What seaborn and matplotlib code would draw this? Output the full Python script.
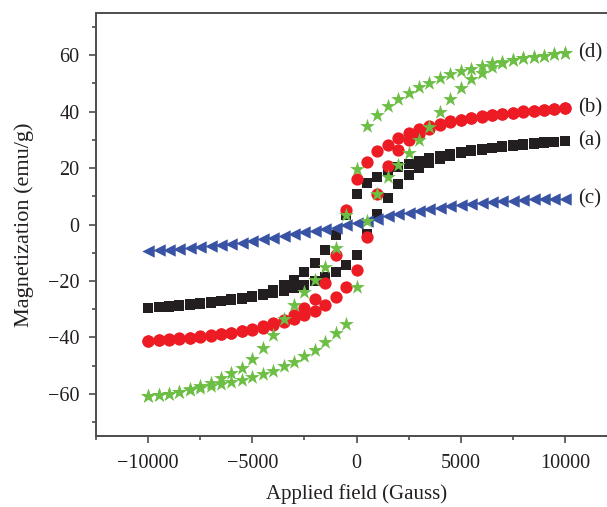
import numpy as np
import pandas as pd
import matplotlib
matplotlib.use("Agg")
import matplotlib.pyplot as plt
import seaborn as sns
from matplotlib.ticker import MultipleLocator

sns.set_style("ticks")
plt.rcParams['font.family'] = ['Liberation Serif', 'DejaVu Serif']

# ------------------------------------------------------------------------
# Data (field in Gauss, M in emu/g)
# ------------------------------------------------------------------------
field = list(range(-10000, 10001, 500))

# (a) black squares
a_upper = [-29.5, -29.2, -28.9, -28.6, -28.2, -27.9, -27.5, -27.0, -26.5, -26.0,
           -25.3, -24.5, -23.4, -21.6, -19.7, -16.7, -13.5, -9.1, -3.6, 3.5,
           10.9, 14.7, 17.0, 19.0, 20.3, 21.5, 22.6, 23.6, 24.4, 25.1,
           25.8, 26.3, 26.8, 27.3, 27.7, 28.1, 28.5, 28.8, 29.1, 29.4, 29.7]
a_lower = [-29.7, -29.4, -29.1, -28.8, -28.5, -28.1, -27.7, -27.3, -26.8, -26.3,
           -25.8, -25.1, -24.4, -23.6, -22.6, -21.4, -20.2, -18.5, -16.7, -14.4,
           -10.8, -3.4, 3.9, 9.5, 14.2, 17.6, 20.0, 21.8, 23.3, 24.4,
           25.3, 26.0, 26.5, 27.0, 27.5, 27.9, 28.2, 28.6, 28.9, 29.2, 29.5]

# (b) red circles
b_upper = [-41.2, -41.0, -40.7, -40.4, -40.1, -39.7, -39.3, -38.8, -38.3, -37.7,
           -37.0, -36.1, -35.0, -33.8, -32.0, -29.7, -26.3, -20.7, -10.8, 5.0,
           16.0, 22.0, 25.9, 28.3, 30.6, 32.5, 33.8, 34.9, 35.8, 36.6,
           37.2, 37.8, 38.4, 38.9, 39.3, 39.7, 40.1, 40.4, 40.7, 41.0, 41.2]
b_lower = [-41.4, -41.1, -40.8, -40.5, -40.2, -39.8, -39.4, -39.0, -38.5, -37.9,
           -37.3, -36.6, -35.7, -34.6, -33.4, -32.2, -30.6, -28.5, -25.8, -22.0,
           -16.1, -4.4, 10.9, 20.9, 26.5, 29.8, 32.1, 33.9, 35.2, 36.2,
           37.0, 37.6, 38.2, 38.7, 39.2, 39.6, 40.0, 40.3, 40.6, 40.9, 41.2]

# (c) blue triangles (no visible loop)
c_curve = [-9.3, -9.1, -8.9, -8.6, -8.3, -8.0, -7.7, -7.3, -6.9, -6.5,
           -5.9, -5.3, -4.7, -4.1, -3.5, -2.8, -2.3, -1.7, -1.1, -0.2,
           0.4, 1.2, 2.1, 2.9, 3.6, 4.2, 4.8, 5.4, 5.9, 6.4,
           6.8, 7.3, 7.6, 7.9, 8.2, 8.5, 8.7, 8.9, 9.0, 9.1, 9.2]

# (d) green stars
d_upper = [-60.8, -60.5, -60.0, -59.3, -58.5, -57.4, -56.2, -54.6, -52.8, -50.8,
           -47.8, -43.9, -39.1, -33.6, -28.6, -24.0, -19.7, -15.0, -8.5, 3.2,
           19.8, 35.0, 38.8, 42.1, 44.6, 46.8, 48.7, 50.3, 52.0, 53.2,
           54.3, 55.3, 56.3, 57.1, 57.7, 58.3, 58.9, 59.4, 59.9, 60.4, 60.7]
d_lower = [-60.8, -60.6, -60.1, -59.4, -58.7, -58.0, -57.3, -56.5, -55.9, -55.0,
           -54.2, -53.1, -52.0, -50.3, -48.7, -46.5, -44.4, -41.8, -38.5, -35.2,
           -22.0, 1.2, 10.9, 16.8, 21.2, 25.3, 29.8, 34.5, 40.0, 44.6,
           48.4, 51.5, 53.9, 55.9, 57.4, 58.3, 58.9, 59.4, 59.9, 60.4, 60.7]

series = [
    ("(a)", [a_upper, a_lower], "s", "#231f20", 62),
    ("(b)", [b_upper, b_lower], "o", "#ed1c24", 78),
    ("(c)", [c_curve], "<", "#3953a4", 80),
    ("(d)", [d_upper, d_lower], "*", "#6cbe45", 125),
]

# ------------------------------------------------------------------------
# Figure
# ------------------------------------------------------------------------
fig = plt.figure(figsize=(6.07, 5.07), dpi=100)
ax = fig.add_axes([96 / 607, 71 / 507, 521 / 607, 423 / 507])

for label, branches, marker, color, size in series:
    for branch in branches:
        df = pd.DataFrame({"H": field, "M": branch})
        sns.scatterplot(data=df, x="H", y="M", marker=marker, color=color,
                        s=size, linewidth=0, ax=ax, legend=False, zorder=3)
    ax.text(10650, branches[0][-1], label, fontsize=15, va="center", ha="left",
            color="#231f20")

ax.set_xlim(-12500, 12500)
ax.set_ylim(-75, 75)
ax.xaxis.set_major_locator(MultipleLocator(5000))
ax.xaxis.set_minor_locator(MultipleLocator(2500))
ax.yaxis.set_major_locator(MultipleLocator(20))
ax.yaxis.set_minor_locator(MultipleLocator(10))
ax.tick_params(which="major", direction="out", length=5, width=1.2,
               colors="#4d4d4d", labelcolor="#231f20", labelsize=14.5)
ax.tick_params(axis="x", which="major", pad=8)
ax.tick_params(axis="y", which="major", pad=7)
ax.tick_params(which="minor", direction="out", length=3, width=1.2,
               colors="#4d4d4d")
for sp in ax.spines.values():
    sp.set_color("#4d4d4d")
    sp.set_linewidth(1.4)

ax.set_xlabel("Applied field (Gauss)", fontsize=15, color="#231f20", labelpad=8)
ax.set_ylabel("Magnetization (emu/g)", fontsize=16, color="#231f20", labelpad=10)

fig.savefig("out.png", dpi=100)
plt.close()
